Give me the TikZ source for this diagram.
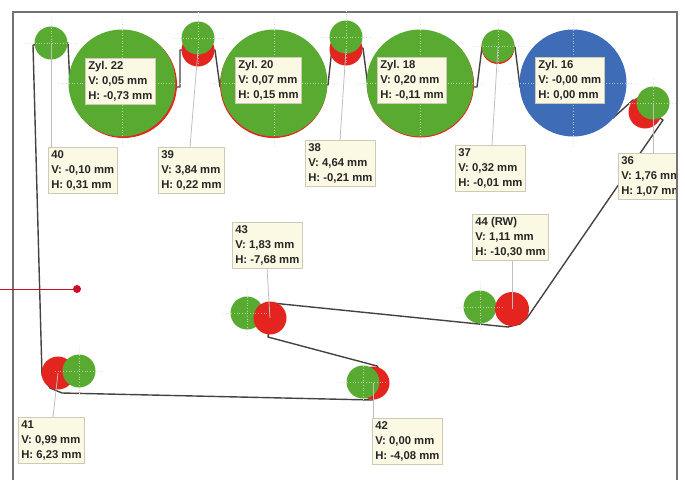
\documentclass[tikz,border=0pt]{standalone}
\usepackage{fontspec}
\setmainfont{Liberation Sans}
\frenchspacing
\usetikzlibrary{calc}
\definecolor{cgreen}{RGB}{88,170,48}
\definecolor{cred}{RGB}{228,36,30}
\definecolor{cblue}{RGB}{62,108,182}
\definecolor{cream}{RGB}{251,249,228}
\definecolor{boxline}{RGB}{205,203,184}
\definecolor{beltc}{RGB}{70,66,64}
\definecolor{ptr}{RGB}{200,16,40}
\tikzset{
  roll/.style={circle, inner sep=0pt, minimum size=33pt, draw=none},
  cyl/.style={circle, inner sep=0pt, minimum size=107pt, draw=none},
  infobox/.style={draw=boxline, fill=cream, line width=0.6pt, inner sep=3pt, anchor=north west,
    align=left, text=black!85, font=\fontsize{11.3}{15}\selectfont\bfseries},
  conn/.style={draw=black!25, line width=0.8pt},
  belt/.style={draw=beltc, line width=1.4pt, line join=round},
  cross/.style={draw=black!22, dotted, line width=0.7pt},
  framel/.style={draw=black!55, line width=1.1pt},
}
\begin{document}
\begin{tikzpicture}[x=1pt,y=-1pt]
\useasboundingbox (0,0) rectangle (685,480);
% frame
\draw[framel] (13,480) -- (13,12) -- (677,12) -- (677,480);
% belt
\draw[belt] (33,45) -- (42,375) -- (50,388) -- (62,393) -- (372,400) -- (383,393) -- (388,382)
  -- (377,366) -- (268,337) -- (272,303) -- (508,327) -- (520,324) -- (527,318)
  -- (663,120) -- (633,100) -- (613,118) -- (520,87) -- (515,47) -- (482,47) -- (477,87)
  -- (368,87) -- (363,48) -- (332,48) -- (328,85) -- (220,87) -- (215,50) -- (180,50)
  -- (180,87) -- (70,87) -- (68,43) -- cycle;
% crosshairs
\foreach \cx/\cy/\a in {122/83/64,274/83/64,420/83/64,573/83/64,
  51/43/26,198/38/26,346/37/26,498/46/26,653/103/24,79/371/24,247/313/24,363/382/24,480/307/24}{
  \draw[cross] (\cx-\a,\cy) -- (\cx+\a,\cy);
  \draw[cross] (\cx,\cy-\a) -- (\cx,\cy+\a);
}
% big cylinders
\node[cyl, fill=cred] (z22r) at (123.5,84.5) {};
\node[cyl, fill=cgreen] (z22) at (122,83) {};
\node[cyl, fill=cred] (z20r) at (273.5,84.5) {};
\node[cyl, fill=cgreen] (z20) at (274,83) {};
\node[cyl, fill=cred] (z18r) at (420.5,84) {};
\node[cyl, fill=cgreen] (z18) at (420,83) {};
\node[cyl, fill=cblue] (z16) at (573,83) {};
% small rollers
\node[roll, fill=cgreen] (g40) at (51,43) {};
\node[roll, fill=cred] (r39) at (198,50) {};
\node[roll, fill=cgreen] (g39) at (198,38) {};
\node[roll, fill=cred] (r38) at (346,49) {};
\node[roll, fill=cgreen] (g38) at (346,37) {};
\node[roll, fill=cred] (r37) at (498,47.5) {};
\node[roll, fill=cgreen] (g37) at (498,46) {};
\node[roll, fill=cred] (r36) at (645,112) {};
\node[roll, fill=cgreen] (g36) at (653,103) {};
\node[roll, fill=cred] (r41) at (58,373) {};
\node[roll, fill=cgreen] (g41) at (79,371) {};
\node[roll, fill=cgreen] (g43) at (247,313) {};
\node[roll, fill=cred] (r43) at (270,318) {};
\node[roll, fill=cred] (r42) at (373,383) {};
\node[roll, fill=cgreen] (g42) at (363,382) {};
\node[roll, fill=cgreen] (g44) at (480,307) {};
\node[roll, fill=cred, minimum size=34pt] (r44) at (512,309) {};
% crosshairs over circles (faint)
\foreach \cx/\cy/\a in {122/83/64,274/83/64,420/83/64,573/83/64,
  51/43/26,198/38/26,346/37/26,498/46/26,653/103/24,79/371/24,247/313/24,363/382/24,480/307/24}{
  \draw[cross, draw=white, opacity=0.55] (\cx-\a,\cy) -- (\cx+\a,\cy);
  \draw[cross, draw=white, opacity=0.55] (\cx,\cy-\a) -- (\cx,\cy+\a);
}
% info boxes
\node[infobox] (bz22) at (85,58) {Zyl. 22\\V: 0,05 mm\\H: -0,73 mm};
\node[infobox] (bz20) at (235,57) {Zyl. 20\\V: 0,07 mm\\H: 0,15 mm};
\node[infobox] (bz18) at (377,57) {Zyl. 18\\V: 0,20 mm\\H: -0,11 mm};
\node[infobox] (bz16) at (535,57) {Zyl. 16\\V: -0,00 mm\\H: 0,00 mm};
\node[infobox] (b40) at (48,147) {40\\V: -0,10 mm\\H: 0,31 mm};
\node[infobox] (b39) at (158,147) {39\\V: 3,84 mm\\H: 0,22 mm};
\node[infobox] (b38) at (305,140) {38\\V: 4,64 mm\\H: -0,21 mm};
\node[infobox] (b37) at (455,145) {37\\V: 0,32 mm\\H: -0,01 mm};
\node[infobox] (b43) at (232,222) {43\\V: 1,83 mm\\H: -7,68 mm};
\node[infobox] (b44) at (472,214) {44 (RW)\\V: 1,11 mm\\H: -10,30 mm};
\node[infobox] (b41) at (18,417) {41\\V: 0,99 mm\\H: 6,23 mm};
\node[infobox] (b42) at (372,418) {42\\V: 0,00 mm\\H: -4,08 mm};
\begin{scope}
\clip (13,12) rectangle (677,480);
\node[infobox] (b36) at (618,153) {36\\V: 1,76 mm\\H: 1,07 mm};
\end{scope}
\draw[framel] (677,140) -- (677,210);
% connectors
\draw[conn] ($(b40.north west)+(3,0)$) -- (g40.center);
\draw[conn] ($(b39.north west)+(32,0)$) -- (r39.center);
\draw[conn] ($(b38.north west)+(35,0)$) -- (r38.center);
\draw[conn] ($(b37.north west)+(37,0)$) -- (g37.center);
\draw[conn] ($(b36.north west)+(35,0)$) -- (g36.center);
\draw[conn] ($(b43.south west)+(35,0)$) -- (r43.center);
\draw[conn] ($(b44.south west)+(40,0)$) -- (r44.center);
\draw[conn] ($(b41.north west)+(35,0)$) -- (r41.center);
\draw[conn] ($(b42.north west)+(1,0)$) -- (r42.center);
% red pointer
\coordinate (pstart) at (0,289);
\node[circle, fill=ptr, inner sep=0pt, minimum size=8pt] (pdot) at (77,289) {};
\draw[draw=ptr, line width=0.9pt] (pstart) -- (pdot.center);
\end{tikzpicture}
\end{document}
